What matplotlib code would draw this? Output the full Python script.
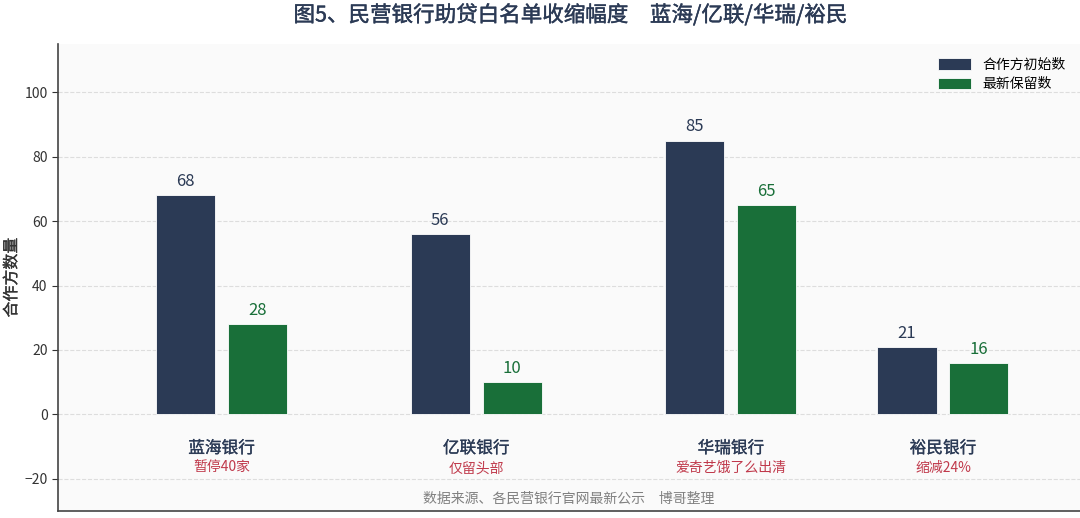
import matplotlib
matplotlib.use("Agg")
import matplotlib.pyplot as plt
import matplotlib.transforms as mtransforms
import matplotlib.patheffects as pe
import numpy as np

plt.rcParams['font.family'] = ['Noto Sans CJK SC', 'DejaVu Sans']
plt.rcParams['axes.unicode_minus'] = True

# datos
bancos = ['蓝海银行', '亿联银行', '华瑞银行', '裕民银行']
notas = ['暂停40家', '仅留头部', '爱奇艺饿了么出清', '缩减24%']
iniciales = [68, 56, 85, 21]
actuales = [28, 10, 65, 16]
series = ['合作方初始数', '最新保留数']

azul = '#2b3a55'
verde = '#196f39'
rojo = '#c0394b'

x = np.array([0, 1, 2, 2.833])
ancho = 0.232
desp = 0.141


def medio(color, grosor=0.2):
    # simula un peso "medium" con un trazo fino
    return [pe.withStroke(linewidth=grosor, foreground=color)]


fig = plt.figure(figsize=(10.8, 5.18), dpi=100)
ax = fig.add_axes([0.0537, 0.0135, 0.946, 0.9015])
ax.set_facecolor('#fafafa')

b1 = ax.bar(x - desp, iniciales, ancho, color=azul, edgecolor='white',
            linewidth=0.6, label=series[0], zorder=3)
b2 = ax.bar(x + desp, actuales, ancho, color=verde, edgecolor='white',
            linewidth=0.6, label=series[1], zorder=3)

for r, v in zip(b1, iniciales):
    ax.text(r.get_x() + r.get_width() / 2, v + 1.6, str(v), ha='center',
            va='bottom', fontsize=12, color=azul)
for r, v in zip(b2, actuales):
    ax.text(r.get_x() + r.get_width() / 2, v + 1.6, str(v), ha='center',
            va='bottom', fontsize=12, color=verde)

for xi, banco, nota in zip(x, bancos, notas):
    ax.text(xi, -10.6, banco, ha='center', va='center', fontsize=12,
            color=azul, path_effects=medio(azul))
    ax.text(xi, -16.7, nota, ha='center', va='center', fontsize=10,
            color=rojo)

# fuente de datos, centrada en el eje
mezcla = mtransforms.blended_transform_factory(ax.transAxes, ax.transData)
ax.text(0.5, -26.2, '数据来源、各民营银行官网最新公示　博哥整理',
        transform=mezcla, ha='center', va='center', fontsize=10,
        color='#808080')

ax.set_xlim(-0.642, 3.37)
ax.set_ylim(-30, 115)
ax.set_yticks([-20, 0, 20, 40, 60, 80, 100])
ax.set_xticks([])
ax.tick_params(axis='y', labelsize=10, colors='#333333', length=4)
ax.yaxis.grid(True, linestyle='--', color='#dddddd', linewidth=0.8, zorder=0)
ax.set_axisbelow(True)

for lado in ['top', 'right']:
    ax.spines[lado].set_visible(False)
for lado in ['left', 'bottom']:
    ax.spines[lado].set_color('#444444')
    ax.spines[lado].set_linewidth(1.2)

ax.set_ylabel('合作方数量', fontsize=11.5, color='#333333', labelpad=3,
              path_effects=medio('#333333'))

ax.legend(loc='upper right', frameon=False, fontsize=10, handlelength=2.4,
          handleheight=0.9, borderaxespad=0.6, labelspacing=0.4)

fig.suptitle('图5、民营银行助贷白名单收缩幅度　蓝海/亿联/华瑞/裕民',
             x=0.528, y=0.992, fontsize=15.5, color=azul,
             path_effects=medio(azul, 0.3))

fig.savefig('out.png', dpi=100)
